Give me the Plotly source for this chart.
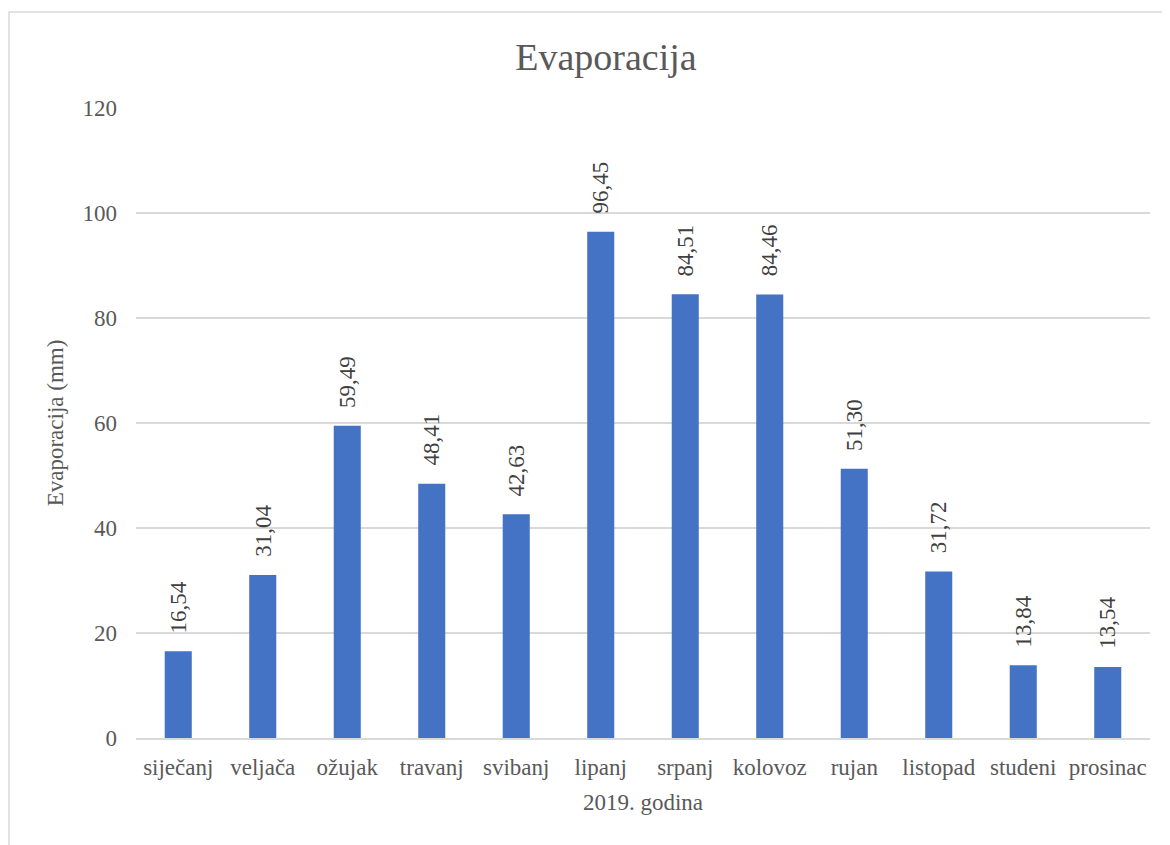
import plotly.graph_objects as go

months = ["siječanj", "veljača", "ožujak", "travanj", "svibanj", "lipanj",
          "srpanj", "kolovoz", "rujan", "listopad", "studeni", "prosinac"]
values = [16.54, 31.04, 59.49, 48.41, 42.63, 96.45, 84.51, 84.46, 51.30, 31.72, 13.84, 13.54]
labels = ["16,54", "31,04", "59,49", "48,41", "42,63", "96,45",
          "84,51", "84,46", "51,30", "31,72", "13,84", "13,54"]
y_ticks = [0, 20, 40, 60, 80, 100, 120]

FONT = "Liberation Serif, Times New Roman, serif"
GRAY = "#595959"
FS = 23

fig = go.Figure(go.Bar(
    x=months, y=values,
    marker=dict(color="#4472C4", line=dict(width=0)),
    hoverinfo="x+y",
))

for m, v, t in zip(months, values, labels):
    fig.add_annotation(x=m, y=v, text=t, textangle=-90, showarrow=False,
                       xref="x", yref="y", yanchor="bottom", yshift=16,
                       font=dict(family=FONT, size=FS, color="#404040"))

fig.update_layout(
    width=1170, height=845,
    margin=dict(l=128, r=28, t=100, b=115),
    paper_bgcolor="white", plot_bgcolor="white",
    bargap=0.68,
    showlegend=False,
    font=dict(family=FONT, size=FS, color=GRAY),
    title=dict(text="Evaporacija", x=0.4635, xref="paper", xanchor="center",
               y=0.942, yref="container", yanchor="middle",
               font=dict(family=FONT, size=38, color=GRAY)),
    xaxis=dict(
        showgrid=False, showline=True, linecolor="#D9D9D9", linewidth=1.5,
        ticks="", tickfont=dict(family=FONT, size=FS, color=GRAY),
        ticklabelstandoff=8,
        title=dict(text="2019. godina", standoff=15,
                   font=dict(family=FONT, size=FS, color=GRAY)),
    ),
    yaxis=dict(
        range=[0, 120], tickvals=y_ticks, showgrid=True, gridcolor="#D9D9D9",
        gridwidth=1.5, zeroline=False, showline=False, ticks="",
        tickfont=dict(family=FONT, size=FS, color=GRAY),
        ticklabelstandoff=18,
        title=dict(text="Evaporacija (mm)", standoff=12,
                   font=dict(family=FONT, size=FS, color=GRAY)),
    ),
    shapes=[dict(type="rect", xref="paper", yref="paper",
                 x0=-0.1252, x1=1.05, y0=-0.3, y1=1.1524,
                 line=dict(color="#D9D9D9", width=1.5), fillcolor="rgba(0,0,0,0)",
                 layer="below")],
)

fig.write_html("out.html")
